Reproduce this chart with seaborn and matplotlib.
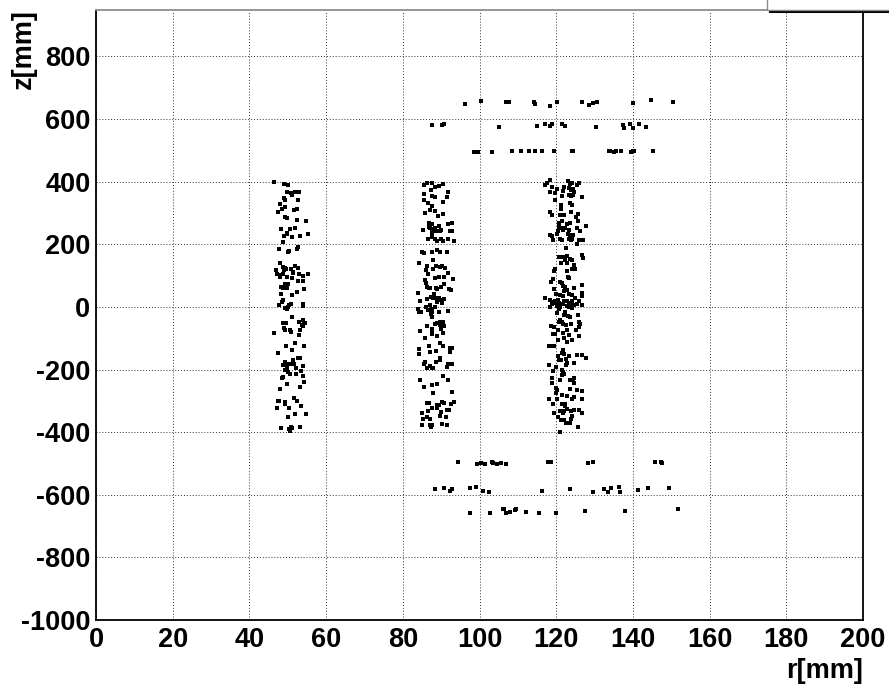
"""r-z hit map: three barrel layers and endcap rings, ROOT-like look."""
import matplotlib
matplotlib.use("Agg")
import matplotlib.pyplot as plt
from matplotlib.patches import Rectangle
from matplotlib.ticker import MultipleLocator
import pandas as pd
import seaborn as sns

# (r [mm], z [mm])
layer1_hits = [
    (46.3, 399), (49.1, 393), (50.1, 390), (49.7, 366), (50.9, 363), (51.2, 357), (51.9, 366), (52.9, 366),
    (49.0, 348), (49.4, 341), (52.7, 341), (47.9, 329), (49.4, 318), (48.4, 313), (52.5, 313), (51.7, 308),
    (47.4, 303), (49.3, 286), (49.7, 284), (52.5, 278), (54.8, 275), (50.6, 250), (48.2, 248), (52.0, 253),
    (49.9, 237), (49.8, 233), (55.3, 234), (49.0, 225), (51.1, 223), (53.3, 226), (48.8, 207), (47.6, 185),
    (50.3, 180), (50.0, 177), (52.3, 184), (52.8, 190), (48.0, 139), (48.7, 128), (49.3, 123), (46.9, 117),
    (48.9, 117), (49.5, 120), (50.9, 121), (51.9, 131), (52.7, 125), (51.3, 112), (47.1, 106), (47.9, 102),
    (47.9, 94), (48.8, 105), (49.9, 96), (51.4, 107), (52.9, 104), (54.0, 98), (55.3, 104), (51.2, 93),
    (52.6, 84), (53.9, 84), (49.3, 73), (50.1, 72), (48.2, 65), (48.8, 59), (49.9, 59), (54.3, 57),
    (52.5, 47), (48.2, 41), (51.0, 38), (48.7, 22), (48.4, 16), (47.7, 5), (49.2, -4), (50.0, 1),
    (50.4, 5), (50.8, 8), (53.9, 10), (54.0, 3), (49.7, -7), (51.1, -33), (48.7, -52), (49.5, -50),
    (53.0, -47), (53.9, -43), (54.2, -50), (54.6, -50), (53.7, -57), (53.9, -62), (49.1, -68), (49.4, -75),
    (50.7, -75), (50.8, -81), (46.4, -84), (53.3, -73), (53.0, -89), (51.9, -115), (54.3, -126), (49.5, -124),
    (51.1, -139), (47.4, -147), (52.7, -164), (53.3, -164), (51.3, -170), (49.3, -177), (50.0, -183), (50.8, -181),
    (51.6, -182), (48.7, -187), (49.1, -187), (54.1, -189), (49.9, -195), (52.2, -196), (49.3, -202), (53.4, -204),
    (50.0, -207), (50.7, -213), (52.2, -214), (48.7, -223), (48.4, -228), (53.9, -221), (49.7, -245), (54.3, -240),
    (53.3, -256), (48.1, -263), (51.7, -292), (47.4, -301), (47.8, -301), (49.4, -303), (52.5, -301), (47.1, -322),
    (49.4, -311), (50.3, -322), (53.5, -318), (51.9, -341), (54.7, -341), (50.1, -351), (48.3, -387), (50.4, -390),
    (50.9, -382), (51.2, -388), (53.2, -383), (50.7, -396),
]

layer2_hits = [
    (85.5, 390), (86.2, 395), (87.7, 395), (88.3, 384), (89.5, 386), (90.6, 393), (87.4, 372), (91.7, 366),
    (85.5, 361), (87.7, 355), (88.5, 350), (91.5, 350), (85.5, 342), (86.7, 331), (90.6, 334), (87.7, 323),
    (87.1, 308), (88.4, 306), (85.9, 300), (90.4, 297), (89.1, 290), (86.8, 269), (87.5, 266), (89.4, 260),
    (91.9, 266), (92.9, 268), (86.9, 255), (87.2, 253), (87.7, 250), (88.3, 253), (85.3, 247), (88.6, 241),
    (89.1, 244), (89.7, 242), (90.0, 247), (92.3, 242), (92.7, 244), (87.6, 236), (86.5, 217), (87.5, 223),
    (88.4, 218), (89.9, 218), (89.0, 209), (90.5, 209), (91.9, 218), (93.4, 212), (88.9, 183), (85.5, 172),
    (85.1, 175), (87.7, 176), (89.7, 177), (91.4, 177), (88.0, 149), (84.3, 139), (86.4, 132), (88.6, 132),
    (90.3, 132), (89.6, 128), (90.9, 125), (86.0, 117), (87.9, 122), (91.7, 109), (86.5, 104), (89.5, 96),
    (90.7, 96), (85.9, 86), (88.4, 91), (93.1, 90), (86.1, 77), (90.8, 72), (92.0, 58), (92.5, 54),
    (86.4, 65), (86.9, 59), (87.2, 62), (88.6, 62), (89.0, 56), (89.9, 65), (84.0, 43), (88.1, 40),
    (86.2, 25), (84.4, 20), (87.3, 31), (87.9, 28), (88.6, 28), (89.4, 30), (90.0, 22), (90.8, 26),
    (88.9, 15), (90.1, 12), (86.0, 1), (87.1, 6), (86.6, -10), (87.5, -7), (88.3, -1), (84.0, -7),
    (84.8, -17), (84.2, -15), (87.3, -22), (87.7, -15), (89.5, -17), (91.8, -14), (87.6, -33), (88.4, -54),
    (89.0, -52), (89.7, -47), (90.6, -48), (89.7, -57), (90.7, -60), (86.4, -62), (87.5, -71), (90.0, -71),
    (84.4, -78), (87.7, -84), (87.7, -88), (90.5, -84), (89.0, -94), (85.7, -99), (89.7, -115), (86.9, -124),
    (90.4, -126), (92.4, -131), (92.9, -131), (84.3, -134), (88.7, -142), (87.1, -145), (92.4, -145), (84.1, -149),
    (89.7, -163), (89.7, -170), (88.6, -177), (85.7, -175), (85.5, -181), (91.7, -182), (92.7, -181), (87.2, -189),
    (87.6, -195), (86.3, -196), (87.9, -196), (91.4, -193), (84.4, -234), (90.6, -221), (88.8, -245), (85.5, -255),
    (87.7, -248), (91.8, -234), (87.9, -276), (92.9, -271), (86.2, -306), (86.9, -306), (88.8, -312), (89.4, -314),
    (90.3, -303), (90.7, -308), (92.5, -309), (93.3, -303), (87.6, -322), (89.0, -324), (89.9, -335), (91.4, -329),
    (92.1, -329), (84.9, -338), (86.6, -332), (89.7, -348), (86.2, -353), (91.2, -353), (85.3, -357), (87.2, -357),
    (87.0, -359), (85.0, -377), (90.2, -375), (87.0, -378), (87.5, -378), (91.4, -377), (87.3, -382),
]

layer3_hits = [
    (118.5, 405), (117.1, 390), (117.6, 395), (119.0, 384), (120.1, 377), (119.6, 363), (118.3, 366), (123.0, 401),
    (123.5, 393), (124.2, 397), (125.3, 388), (126.0, 395), (122.1, 384), (123.3, 380), (123.9, 373), (124.4, 377),
    (121.8, 369), (124.7, 367), (121.6, 355), (123.3, 357), (123.9, 354), (124.4, 359), (126.8, 352), (119.6, 341),
    (123.7, 333), (124.0, 327), (121.3, 327), (121.2, 314), (118.5, 303), (119.0, 294), (120.9, 294), (122.0, 295),
    (123.8, 304), (125.8, 297), (125.1, 287), (121.4, 274), (122.8, 266), (120.8, 268), (125.7, 274), (123.5, 269),
    (127.9, 260), (120.8, 255), (121.3, 253), (120.4, 244), (121.8, 247), (122.3, 253), (123.4, 247), (125.3, 253),
    (126.1, 244), (120.1, 234), (123.0, 232), (123.5, 229), (124.4, 229), (118.5, 229), (118.8, 225), (121.1, 218),
    (121.4, 213), (119.2, 213), (123.3, 218), (123.9, 213), (124.2, 218), (126.0, 213), (127.0, 213), (125.5, 200),
    (122.5, 189), (122.7, 162), (121.8, 158), (122.3, 151), (123.5, 154), (124.2, 149), (126.7, 165), (127.0, 156),
    (120.6, 158), (121.2, 141), (122.9, 141), (124.6, 133), (125.0, 120), (124.1, 122), (119.7, 120), (119.4, 115),
    (122.8, 114), (123.2, 96), (123.4, 91), (119.2, 88), (118.7, 80), (120.9, 80), (121.4, 75), (121.8, 68),
    (122.3, 65), (124.7, 62), (126.6, 70), (119.4, 56), (122.1, 52), (122.8, 54), (119.9, 41), (121.0, 38),
    (121.8, 35), (123.3, 41), (124.2, 38), (126.8, 45), (126.6, 35), (117.1, 28), (118.3, 22), (119.0, 17),
    (119.7, 20), (120.5, 22), (122.0, 20), (122.8, 20), (124.1, 19), (125.9, 20), (124.8, 28), (118.8, 10),
    (119.4, 12), (120.1, 7), (120.8, 14), (120.2, 3), (121.8, 10), (122.8, 4), (123.4, 12), (123.7, 6),
    (124.6, 6), (125.3, 10), (126.6, 5), (118.5, 1), (121.1, -1), (120.6, -7), (123.4, -1), (124.2, -5),
    (120.2, -18), (122.3, -15), (122.0, -25), (123.1, -29), (123.7, -31), (125.7, -25), (120.9, -41), (121.4, -47),
    (120.6, -47), (126.0, -47), (121.8, -54), (126.1, -54), (122.5, -57), (123.9, -54), (118.7, -60), (119.4, -65),
    (120.4, -73), (122.7, -73), (125.1, -73), (126.0, -65), (119.2, -86), (119.6, -86), (121.8, -84), (123.4, -89),
    (122.1, -99), (126.0, -94), (120.5, -107), (122.7, -113), (124.2, -105), (118.1, -124), (118.8, -126), (119.5, -126),
    (121.8, -137), (121.4, -147), (122.1, -149), (120.5, -158), (123.4, -158), (125.3, -154), (126.8, -152), (127.9, -163),
    (120.6, -168), (121.2, -170), (122.5, -166), (122.9, -179), (122.5, -184), (124.7, -179), (118.1, -187), (119.9, -191),
    (119.2, -205), (121.5, -203), (121.8, -208), (121.4, -219), (122.1, -215), (119.0, -226), (120.9, -234), (124.7, -226),
    (124.4, -234), (123.7, -232), (118.9, -244), (124.7, -243), (119.9, -258), (120.1, -266), (119.9, -274), (123.5, -263),
    (125.3, -266), (126.6, -269), (118.1, -295), (120.2, -295), (121.4, -282), (122.9, -284), (124.0, -293), (124.7, -287),
    (126.6, -295), (119.2, -309), (121.4, -311), (122.3, -311), (122.4, -317), (122.9, -325), (122.1, -332), (123.8, -332),
    (124.7, -329), (126.0, -329), (121.1, -332), (119.4, -338), (120.5, -350), (121.8, -340), (124.2, -348), (126.8, -340),
    (121.2, -361), (122.1, -361), (122.5, -370), (123.8, -359), (123.5, -370), (125.7, -385), (121.1, -401),
]

endcap_pos_hits = [
    # z ~ +655
    (96.3, 649), (100.4, 658), (107.0, 653), (107.6, 655), (114.2, 653), (114.6, 648), (118.4, 643), (120.1, 653),
    (126.8, 655), (128.5, 645), (129.5, 652), (130.6, 655), (140.0, 650), (144.6, 660), (150.5, 655),
    # z ~ +580
    (87.7, 582), (90.1, 581), (90.7, 585), (105.1, 575), (115.0, 577), (117.1, 585), (118.3, 579), (118.9, 585),
    (121.5, 585), (122.2, 579), (130.4, 574), (137.4, 582), (137.7, 572), (139.2, 585), (140.0, 571), (141.6, 585),
    (143.5, 575),
    # z ~ +497
    (98.6, 495), (99.7, 496), (103.3, 495), (108.4, 497), (110.9, 499), (112.9, 499), (114.4, 497), (116.2, 499),
    (119.4, 497), (124.2, 497), (124.5, 497), (133.7, 497), (134.0, 499), (135.0, 495), (135.7, 497), (136.9, 497),
    (139.6, 496), (140.0, 497), (140.4, 497), (145.3, 499),
]

endcap_neg_hits = [
    # z ~ -497
    (94.3, -494), (99.4, -501), (100.4, -498), (101.4, -503), (103.3, -496), (103.5, -499), (104.6, -501),
    (105.7, -498), (106.8, -501), (117.9, -496), (118.7, -494), (128.3, -499), (129.5, -496), (145.8, -494),
    (147.3, -496), (147.7, -499),
    # z ~ -582
    (88.3, -582), (90.7, -577), (92.3, -587), (92.7, -582), (97.6, -577), (99.0, -574), (100.8, -587), (102.5, -592),
    (116.4, -587), (123.6, -581), (129.5, -592), (132.4, -581), (133.4, -590), (134.2, -578), (136.3, -574),
    (136.7, -590), (141.3, -584), (144.0, -577), (149.3, -579),
    # z ~ -653
    (97.6, -659), (102.7, -659), (106.2, -647), (106.4, -647), (107.0, -657), (108.0, -655), (109.2, -650),
    (109.5, -645), (112.0, -655), (115.4, -657), (119.9, -657), (127.5, -652), (137.9, -652), (151.7, -647),
]

X_LIM = (0, 200)
Y_LIM = (-1000, 950)


def build_frame() -> pd.DataFrame:
    parts = []
    for name, hits in [("layer1", layer1_hits), ("layer2", layer2_hits), ("layer3", layer3_hits),
                       ("endcap+", endcap_pos_hits), ("endcap-", endcap_neg_hits)]:
        df = pd.DataFrame(hits, columns=["r", "z"])
        df["group"] = name
        parts.append(df)
    return pd.concat(parts, ignore_index=True)


def main() -> None:
    sns.set_style("white")
    plt.rcParams["font.family"] = ["Liberation Sans", "DejaVu Sans"]
    plt.rcParams["font.weight"] = "bold"
    plt.rcParams["axes.unicode_minus"] = False
    for key in ["text.color", "axes.labelcolor", "xtick.color", "ytick.color"]:
        plt.rcParams[key] = "black"

    hits = build_frame()

    W, H = 889, 686
    fig = plt.figure(figsize=(W / 100, H / 100), dpi=100)
    ax = fig.add_axes([96 / W, 1 - 620 / H, (863 - 96) / W, (620 - 9.5) / H])

    ax.grid(True, which="major", color="0.2", linestyle=(0, (1, 2)), linewidth=0.7)
    ax.set_axisbelow(True)

    sns.scatterplot(data=hits, x="r", y="z", color="black", marker="s", s=5,
                    linewidth=0, legend=False, ax=ax, zorder=3)

    ax.set_xlim(*X_LIM)
    ax.set_ylim(*Y_LIM)
    ax.xaxis.set_major_locator(MultipleLocator(20))
    ax.xaxis.set_minor_locator(MultipleLocator(5))
    ax.yaxis.set_major_locator(MultipleLocator(200))
    ax.yaxis.set_minor_locator(MultipleLocator(50))

    ax.tick_params(axis="x", which="major", direction="in", length=13, width=1, labelsize=19.5, pad=5)
    ax.tick_params(axis="x", which="minor", direction="in", length=6.5, width=1)
    ax.tick_params(axis="y", which="major", direction="in", length=16.5, width=1, labelsize=19.5, pad=4)
    ax.tick_params(axis="y", which="minor", direction="in", length=8.5, width=1)
    for lab in ax.get_xticklabels() + ax.get_yticklabels():
        lab.set_fontweight("bold")

    for side in ["left", "bottom", "right"]:
        ax.spines[side].set_color("black")
        ax.spines[side].set_linewidth(1.3)
    ax.spines["top"].set_color("0.55")
    ax.spines["top"].set_linewidth(1.3)

    ax.set_xlabel("r[mm]", fontsize=19.5, fontweight="bold", loc="right")
    ax.xaxis.set_label_coords(1.0, -0.062)
    ax.set_ylabel("z[mm]", fontsize=19.5, fontweight="bold", loc="top")
    ax.yaxis.set_label_coords(-0.077, 1.0)

    # partially visible title box at the top right, with its shadow
    fig.patches.append(Rectangle((769 / W, 1 - 13 / H), (W - 769) / W, 4 / H,
                                 transform=fig.transFigure, facecolor="black",
                                 edgecolor="none", zorder=10))
    fig.patches.append(Rectangle((767 / W, 1 - 10 / H), (W - 767 + 5) / W, 15 / H,
                                 transform=fig.transFigure, facecolor="white",
                                 edgecolor="0.55", linewidth=1, zorder=11))

    fig.savefig("out.png", dpi=100)
    plt.close(fig)


if __name__ == "__main__":
    main()
